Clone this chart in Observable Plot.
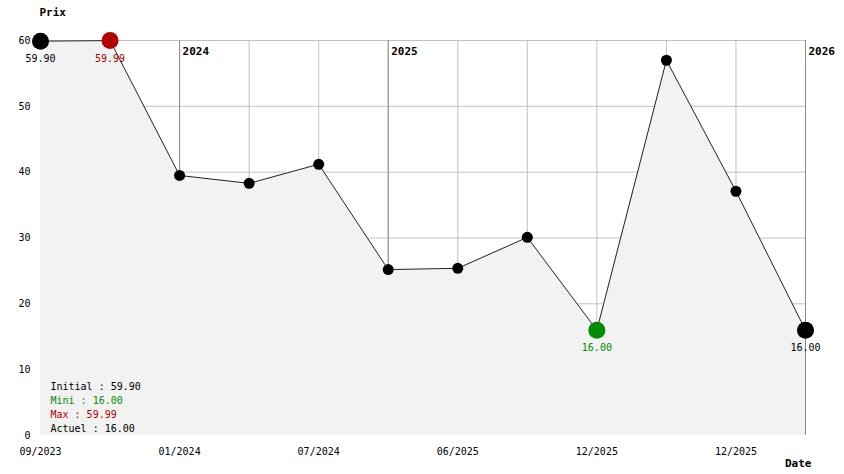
<!DOCTYPE html>
<html>
<head>
<meta charset="utf-8">
<script src="https://cdn.jsdelivr.net/npm/d3@7"></script>
<script src="https://cdn.jsdelivr.net/npm/@observablehq/plot@0.6"></script>
<style>
  html, body { margin: 0; padding: 0; background: #fff; }
  #chart svg { display: block; }
</style>
</head>
<body>
<div id="chart"></div>
<script>
// ---- data ----
const prices = [59.90, 59.99, 39.5, 38.3, 41.2, 25.2, 25.4, 30.1, 16.00, 57.0, 37.1, 16.00];
const tickIndex = [0, 2, 4, 6, 8, 10];
const tickLabels = ["09/2023", "01/2024", "07/2024", "06/2025", "12/2025", "12/2025"];
const yearIndex = [2, 5, 11];
const yearLabels = ["2024", "2025", "2026"];
const yTicks = [0, 10, 20, 30, 40, 50, 60];
const legendLines = ["Initial : 59.90", "Mini : 16.00", "Max : 59.99", "Actuel : 16.00"];

// ---- derived tables ----
const data = prices.map((p, i) => ({i, price: p}));
const iMax = prices.indexOf(d3.max(prices));
const iMin = prices.indexOf(d3.min(prices));
const iLast = prices.length - 1;
const RED = "#b30000", GREEN = "#008c00";
const special = [
  {i: 0, price: prices[0], color: "#000", label: prices[0].toFixed(2)},
  {i: iMax, price: prices[iMax], color: RED, label: prices[iMax].toFixed(2)},
  {i: iMin, price: prices[iMin], color: GREEN, label: prices[iMin].toFixed(2)},
  {i: iLast, price: prices[iLast], color: "#000", label: prices[iLast].toFixed(2)}
];
const specialIdx = new Set(special.map(d => d.i));
const ordinary = data.filter(d => !specialIdx.has(d.i));
const years = yearIndex.map((i, k) => ({i, label: yearLabels[k]}));
const legendColors = ["#000", GREEN, RED, "#000"];
const FONT = "'DejaVu Sans Mono', 'Liberation Mono', monospace";

const marks = [
  Plot.ruleY(yTicks.filter(t => t > 0), {stroke: "#c0c0c0", strokeWidth: 1}),
  Plot.ruleX(data, {x: "i", stroke: "#c0c0c0", strokeWidth: 1}),
  Plot.ruleX(yearIndex, {stroke: "#8c8c8c", strokeWidth: 1}),
  Plot.areaY(data, {x: "i", y: "price", fill: "#f2f2f2"}),
  Plot.lineY(data, {x: "i", y: "price", stroke: "#222", strokeWidth: 1}),
  Plot.dot(ordinary, {x: "i", y: "price", r: 5.5, fill: "#000", stroke: "none"}),
  Plot.dot(special, {x: "i", y: "price", r: 8.5, fill: "color", stroke: "none"}),
  Plot.text(special, {x: "i", y: "price", text: "label", fill: "color", dy: 18, fontSize: 10}),
  Plot.text(years, {x: "i", text: "label", frameAnchor: "top", textAnchor: "start", dx: 3, dy: 7, fontWeight: "bold", fontSize: 11, fill: "#000"}),
  Plot.axisY({ticks: yTicks, tickSize: 0, tickPadding: 10, label: null, fontSize: 10}),
  Plot.axisX({ticks: tickIndex, tickFormat: i => tickLabels[tickIndex.indexOf(i)], tickSize: 0, tickPadding: 12, label: null, fontSize: 10}),
  Plot.text(["Prix"], {frameAnchor: "top-left", textAnchor: "start", dx: -1, dy: -32, fontWeight: "bold", fontSize: 11, fill: "#000"}),
  Plot.text(["Date"], {frameAnchor: "bottom-right", textAnchor: "end", dx: 6, dy: 31, fontWeight: "bold", fontSize: 11, fill: "#000"}),
  ...legendLines.map((t, k) => Plot.text([t], {
    frameAnchor: "bottom-left", textAnchor: "start", dx: 10,
    dy: -50 + 4 + k * 14.3, fill: legendColors[k], fontSize: 10
  }))
];

const chart = Plot.plot({
  width: 844,
  height: 474,
  marginLeft: 40,
  marginRight: 39,
  marginTop: 40,
  marginBottom: 39,
  x: {type: "linear", domain: [0, prices.length - 1]},
  y: {domain: [0, 60]},
  color: {type: "identity"},
  style: {fontFamily: FONT, fontSize: "10px", color: "#000", background: "#fff"},
  marks
});
document.getElementById("chart").append(chart);
</script>
</body>
</html>
